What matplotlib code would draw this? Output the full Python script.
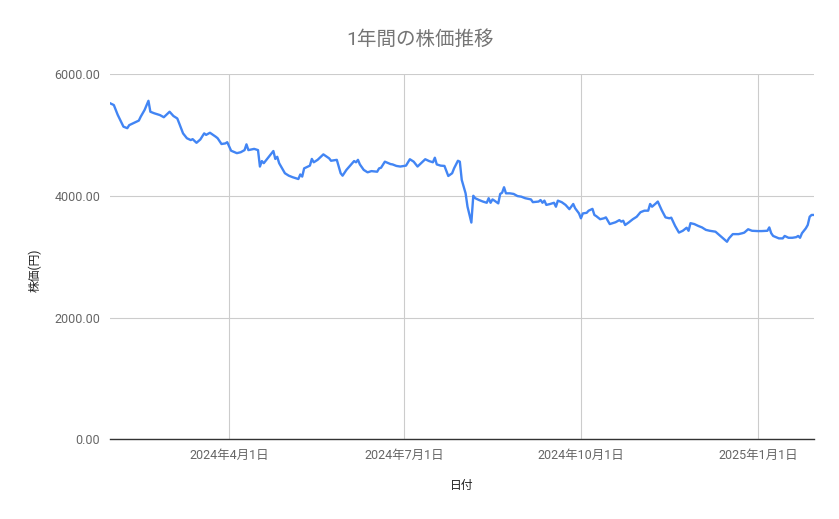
import matplotlib
matplotlib.use("Agg")
import matplotlib.pyplot as plt
import numpy as np

plt.rcParams['font.family'] = ['Roboto', 'Noto Sans CJK JP', 'DejaVu Sans']

title = "1年間の株価推移"
x_label = "日付"
y_label = "株価(円)"

# dates, grouped by month
dates = (
    ["2024-01-30"]
    + ["2024-02-%02d" % d for d in [1, 3, 6, 8, 9, 12, 14, 15, 17, 19, 20, 22, 25, 27]]
    + ["2024-03-%02d" % d for d in [1, 3, 5, 6, 8, 10, 12, 13, 15, 17, 19, 20, 22, 25, 26, 28, 30, 31]]
    + ["2024-04-%02d" % d for d in [2, 5, 7, 9, 10, 11, 14, 16, 17, 18, 19, 21, 24, 25, 26, 27, 30]]
    + ["2024-05-%02d" % d for d in [2, 4, 7, 8, 9, 10, 13, 14, 15, 17, 20, 23, 24, 27, 29, 30]]
    + ["2024-06-%02d" % d for d in [1, 5, 6, 7, 8, 10, 12, 14, 17, 18, 19, 21, 24, 25, 27, 29]]
    + ["2024-07-%02d" % d for d in [2, 4, 6, 8, 12, 14, 16, 17, 18, 20, 22, 24, 26, 27, 29, 30, 31]]
    + ["2024-08-%02d" % d for d in [2, 3, 5, 6, 7, 9, 11, 13, 14, 15, 16, 17, 19, 20, 21, 22, 23, 25, 27, 29, 31]]
    + ["2024-09-%02d" % d for d in [2, 5, 6, 9, 10, 11, 12, 13, 15, 17, 18, 19, 21, 23, 25, 27, 28, 30]]
    + ["2024-10-%02d" % d for d in [1, 2, 4, 5, 7, 8, 9, 11, 13, 14, 16, 19, 21, 22, 23, 24, 26, 28, 30]]
    + ["2024-11-%02d" % d for d in [1, 3, 5, 6, 7, 9, 10, 12, 14, 16, 17, 19, 21, 23, 25, 26, 27, 29]]
    + ["2024-12-%02d" % d for d in [1, 3, 5, 7, 10, 12, 14, 16, 17, 19, 22, 24, 25, 27, 29]]
    + ["2025-01-%02d" % d for d in [1, 3, 6, 7, 8, 9, 12, 14, 15, 17, 19, 21, 22, 23, 24, 26, 27, 28, 29, 30]]
)

prices = (
    [5520, 5490, 5330, 5135, 5110, 5160, 5205, 5235, 5300, 5410, 5560, 5380, 5355, 5325, 5290]
    + [5380, 5310, 5270, 5190, 5025, 4945, 4915, 4930, 4870, 4925, 5025, 5000, 5035, 4970, 4945, 4850, 4860, 4880]
    + [4740, 4700, 4715, 4750, 4845, 4750, 4770, 4750, 4480, 4570, 4535, 4615, 4735, 4605, 4640, 4535, 4370]
    + [4330, 4305, 4275, 4350, 4315, 4450, 4495, 4605, 4550, 4590, 4680, 4615, 4575, 4590, 4370, 4330]
    + [4425, 4570, 4550, 4590, 4515, 4425, 4385, 4405, 4395, 4450, 4460, 4560, 4520, 4515, 4490, 4480]
    + [4495, 4600, 4560, 4480, 4600, 4570, 4550, 4625, 4515, 4495, 4490, 4325, 4370, 4450, 4575, 4560, 4260]
    + [4040, 3820, 3560, 4000, 3960, 3930, 3905, 3885, 3960, 3885, 3940, 3920, 3875, 4030, 4050, 4140, 4040,
       4040, 4030, 3995, 3985]
    + [3960, 3940, 3895, 3905, 3930, 3885, 3920, 3850, 3865, 3885, 3820, 3920, 3895, 3850, 3780, 3865, 3795, 3710]
    + [3630, 3710, 3720, 3755, 3785, 3685, 3665, 3615, 3630, 3645, 3535, 3565, 3600, 3575, 3590, 3520, 3565,
       3615, 3655]
    + [3730, 3755, 3755, 3865, 3820, 3875, 3905, 3765, 3645, 3630, 3640, 3505, 3395, 3425, 3475, 3425, 3550, 3535]
    + [3505, 3480, 3440, 3425, 3410, 3355, 3300, 3245, 3300, 3370, 3370, 3385, 3395, 3450, 3425]
    + [3420, 3420, 3425, 3480, 3385, 3340, 3300, 3300, 3340, 3310, 3310, 3320, 3340, 3310, 3385, 3465, 3520,
       3655, 3685, 3685]
)

x_ticks = ["2024-04-01", "2024-07-01", "2024-10-01", "2025-01-01"]
x_tick_labels = ["2024年4月1日", "2024年7月1日", "2024年10月1日", "2025年1月1日"]
y_ticks = [0, 2000, 4000, 6000]

x = np.array(dates, dtype="datetime64[D]")

fig = plt.figure(figsize=(8.39, 5.19), dpi=100)
ax = fig.add_axes([110 / 839, 1 - 439.3 / 519, (813.5 - 110) / 839, (439.3 - 74) / 519])

ax.plot(x, prices, color="#4285f4", linewidth=1.7, solid_joinstyle="round", zorder=3)

ax.set_xlim(x[0], x[-1])
ax.set_ylim(0, 6000)
ax.set_xticks(np.array(x_ticks, dtype="datetime64[D]"))
ax.set_xticklabels(x_tick_labels)
ax.set_yticks(y_ticks)
ax.set_yticklabels(["%.2f" % v for v in y_ticks])
ax.tick_params(length=0, labelsize=9, colors="#666666")
ax.tick_params(axis="y", pad=7)
ax.tick_params(axis="x", pad=7)

ax.grid(True, color="#cccccc", linewidth=0.8)
ax.set_axisbelow(True)
for s in ["top", "right", "left"]:
    ax.spines[s].set_visible(False)
ax.spines["bottom"].set_color("#333333")
ax.spines["bottom"].set_linewidth(1.0)
ax.spines["bottom"].set_zorder(4)

fig.text(420 / 839, 1 - 40 / 519, title, ha="center", va="center", fontsize=14, color="#757575")
fig.text(462 / 839, 1 - 486 / 519, x_label, ha="center", va="center", fontsize=8.5, color="#222222")
fig.text(35 / 839, 1 - 270 / 519, y_label, ha="center", va="center", fontsize=8.5, color="#222222",
         rotation=90)

fig.savefig("out.png", dpi=100)
